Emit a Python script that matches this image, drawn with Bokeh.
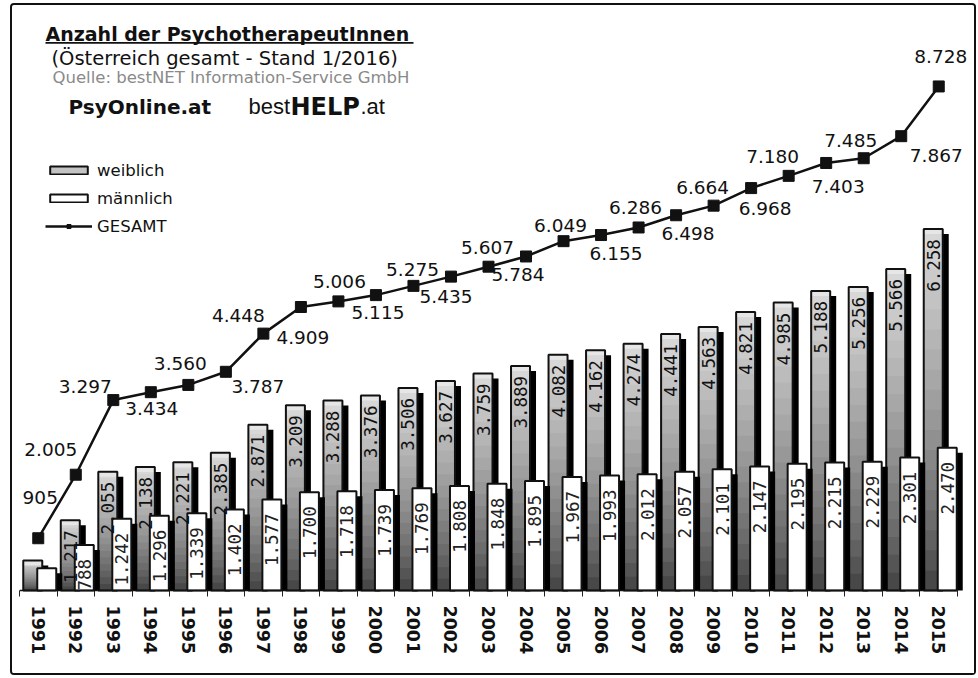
import numpy as np
from bokeh.plotting import figure
from bokeh.models import (Range1d, LinearAxis, FixedTicker, Label, LabelSet, BoxAnnotation,
                          Legend, LegendItem, ColumnDataSource)
from bokeh.core.properties import value
from bokeh.embed import file_html
from bokeh.resources import INLINE

# ---------------- data ----------------
years = ["1991", "1992", "1993", "1994", "1995", "1996", "1997", "1998", "1999",
         "2000", "2001", "2002", "2003", "2004", "2005", "2006", "2007", "2008",
         "2009", "2010", "2011", "2012", "2013", "2014", "2015"]
weiblich = [520, 1217, 2055, 2138, 2221, 2385, 2871, 3209, 3288, 3376, 3506, 3627,
            3759, 3889, 4082, 4162, 4274, 4441, 4563, 4821, 4985, 5188, 5256, 5566, 6258]
maennlich = [385, 788, 1242, 1296, 1339, 1402, 1577, 1700, 1718, 1739, 1769, 1808,
             1848, 1895, 1967, 1993, 2012, 2057, 2101, 2147, 2195, 2215, 2229, 2301, 2470]
gesamt = [905, 2005, 3297, 3434, 3560, 3787, 4448, 4909, 5006, 5115, 5275, 5435,
          5607, 5784, 6049, 6155, 6286, 6498, 6664, 6968, 7180, 7403, 7485, 7867, 8728]

title = "Anzahl der PsychotherapeutInnen"
subtitle = "(Österreich gesamt - Stand 1/2016)"
source = "Quelle: bestNET Information-Service GmbH"

# --------------- layout / style (page pixels) ---------------
OX, OY = 12, 5              # page position of the canvas
W, H = 966, 672
CAT_L, CAT_R = 19, 957      # span of the 25 categories
FR_R = 972                  # right edge of the frame (room for labels)
FR_T, BASE, FR_B = 20, 590, 593
Y_END = 9870
n = len(years)
xpx = n / (CAT_R - CAT_L)            # data units per px (x)
ypx = Y_END / (BASE - FR_T)          # data units per px (y)
x_start, x_end = -0.5, -0.5 + (FR_R - CAT_L) * xpx
y_start = -(FR_B - BASE) * ypx
BL, BR, BT, BB = CAT_L - OX, OX + W - FR_R, FR_T - OY, OY + H - FR_B


def X(page_x):
    return -0.5 + (page_x - CAT_L) * xpx


def Y(page_y):
    return (BASE - page_y) * ypx


def fmt(v):
    return f"{v:,}".replace(",", ".")


idx = np.arange(n)
w = np.array(weiblich, dtype=float)
m = np.array(maennlich, dtype=float)
g = np.array(gesamt, dtype=float)

xw = idx - 5.5 * xpx
xm = idx + 8.5 * xpx
bw = 19 * xpx
sh_dx = 6 * xpx
sh_dy = 5 * ypx

p = figure(width=W, height=H, x_range=Range1d(x_start, x_end), y_range=Range1d(y_start, Y_END),
           output_backend="svg", toolbar_location=None,
           x_axis_location=None, y_axis_location=None,
           min_border_left=BL, min_border_right=BR, min_border_top=BT, min_border_bottom=BB)
p.outline_line_color = None
p.background_fill_color = "white"
p.border_fill_color = "white"
for gr in p.grid:
    gr.visible = False
p.styles = {"border": "2px solid #111", "border-radius": "4px",
            "margin-left": "10px", "margin-top": "3px"}

# x axis: ticks at category boundaries, year labels at centres
xaxis = LinearAxis(
    ticker=FixedTicker(ticks=list(range(n)), minor_ticks=[k - 0.5 for k in range(n + 1)]),
    major_label_overrides={k: y for k, y in enumerate(years)},
    major_tick_in=0, major_tick_out=0,
    minor_tick_in=FR_B - BASE, minor_tick_out=3, minor_tick_line_color="#222",
    minor_tick_line_width=1, axis_line_color=None,
    major_label_orientation="vertical", major_label_standoff=9,
    major_label_text_font="DejaVu Sans", major_label_text_font_style="bold",
    major_label_text_font_size="17.5px", major_label_text_color="#111")
p.add_layout(xaxis, "below")
# baseline only under the categories
p.add_layout(BoxAnnotation(left=-0.5, right=n - 0.5, top=0.8 * ypx, bottom=-0.8 * ypx,
                           fill_color="#111", fill_alpha=1, line_color=None))

# ---- weiblich bars: shadow, gradient layers, outline ----
p.vbar(x=xw + sh_dx, width=bw, bottom=0, top=np.maximum(w - sh_dy, 0),
       fill_color="black", line_color=None)
N = 18
wrenders = []
for k in range(N):
    frac = (N - k) / N
    lvl = int(round(50 + 165 * (frac ** 0.7)))
    col = "#%02x%02x%02x" % (lvl, lvl, lvl)
    r = p.vbar(x=xw, width=bw, bottom=0, top=w * frac, fill_color=col, line_color=None)
    wrenders.append(r)
# light strip on top
p.vbar(x=xw, width=bw, bottom=np.maximum(w - 5 * ypx, 0), top=w, fill_color="#e6e6e6",
       line_color=None)
w_out = p.vbar(x=xw, width=bw, bottom=0, top=w, fill_alpha=0, line_color="#111", line_width=2)

# ---- maennlich bars ----
p.vbar(x=xm + sh_dx, width=bw, bottom=0, top=np.maximum(m - sh_dy, 0),
       fill_color="black", line_color=None)
m_r = p.vbar(x=xm, width=bw, bottom=0, top=m, fill_color="white", line_color="#111",
             line_width=2)

# ---- bar value labels ----
mask_w = w >= 700
p.text(x=xw[mask_w], y=w[mask_w], text=[fmt(int(v)) for v in w[mask_w]], angle=np.pi / 2,
       text_align="right", text_baseline="middle", y_offset=10,
       text_font=value("DejaVu Sans Mono"), text_font_size="17.5px", text_color="#111")
mask_m = m >= 700
p.text(x=xm[mask_m], y=m[mask_m], text=[fmt(int(v)) for v in m[mask_m]], angle=np.pi / 2,
       text_align="right", text_baseline="middle", y_offset=14,
       text_font=value("DejaVu Sans Mono"), text_font_size="17.5px", text_color="#222")

# ---- GESAMT line ----
l_r = p.line(x=idx, y=g, line_color="#111", line_width=2.5)
s_r = p.scatter(x=idx, y=g, marker="square", size=11, fill_color="#111", line_color="#111")

# label placement (screen px offsets, +y = down)
offs = [(2, -41), (-25, -25), (-28, -14), (1, 16), (-8, -21), (32, 15), (-25, -18),
        (2, 30), (1, -20), (2, 17), (-1, -16), (-5, 20), (-1, -19), (-8, 18), (-3, -16),
        (15, 18), (-3, -20), (12, 18), (-11, -18), (14, 20), (-16, -19), (12, 24),
        (-13, -18), (35, 19), (2, -30)]
p.text(x=idx, y=g, text=[fmt(int(v)) for v in g],
       x_offset=[o[0] for o in offs], y_offset=[o[1] for o in offs],
       text_align="center", text_baseline="middle",
       text_font=value("DejaVu Sans"), text_font_size="18.5px", text_color="#111")

# ---- legend ----
legend = Legend(items=[
    LegendItem(label="weiblich", renderers=[wrenders[3], w_out]),
    LegendItem(label="männlich", renderers=[m_r]),
    LegendItem(label="GESAMT", renderers=[l_r, s_r]),
], location=(45 - CAT_L, FR_B - 237),
    glyph_width=47, glyph_height=10, label_height=22, spacing=6, padding=0, margin=0,
    label_standoff=5, border_line_alpha=0, background_fill_alpha=0,
    label_text_font="DejaVu Sans", label_text_font_size="16.5px", label_text_color="#111")
p.add_layout(legend, "center")

# ---- title block ----
def lab(txt, px, py, size, font="DejaVu Sans", style="normal", color="#111"):
    p.add_layout(Label(x=X(px), y=Y(py), text=txt, text_font=font, text_font_size=size,
                       text_font_style=style, text_color=color,
                       text_baseline="alphabetic", text_align="left"))

lab(title, 45, 33, "19px", style="bold")
p.add_layout(BoxAnnotation(left=X(45), right=X(413), top=Y(41.5), bottom=Y(43.2),
                           fill_color="#111", fill_alpha=1, line_color=None))
lab(subtitle, 51, 58, "19.5px")
lab(source, 52, 77, "16.5px", color="#8a8a8a")
lab("PsyOnline.at", 68, 106, "20px", style="bold")
lab("best", 248, 106, "22px", font="Liberation Sans")
lab("HELP", 290, 106, "24px", font="DejaVu Sans", style="bold")
lab(".at", 360, 106, "22px", font="Liberation Sans")

open("out.html", "w").write(file_html(p, INLINE))
